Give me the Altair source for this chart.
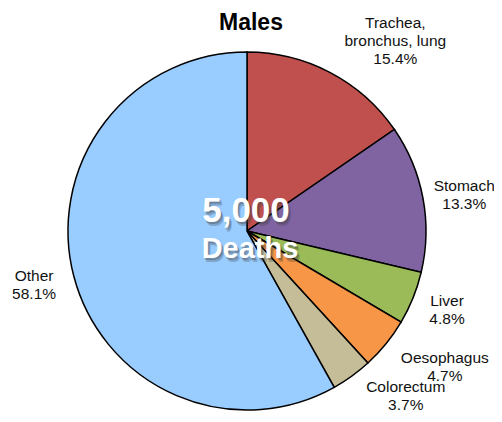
import altair as alt
import pandas as pd

# ---- data ----
causes = ["Trachea,\nbronchus, lung", "Stomach", "Liver", "Oesophagus", "Colorectum", "Other"]
shares = [15.4, 13.3, 4.8, 4.7, 3.7, 58.1]
order = [1, 2, 3, 4, 5, 6]
colors = ["#C0504D", "#8064A2", "#9BBB59", "#F79646", "#C4BD97", "#99CCFF"]
title_text = "Males"
center_number = "5,000"
center_word = "Deaths"

df = pd.DataFrame({"cause": causes, "share": shares, "order": order})
df["label"] = [f"{c}\n{s:.1f}%" for c, s in zip(causes, shares)]

FONT = "Liberation Sans"
W, H = 478, 366
CX, CY = W / 2, H / 2
LH = 18

pie = alt.Chart(df).mark_arc(outerRadius=179, stroke="black", strokeWidth=1.5).encode(
    theta=alt.Theta("share:Q", stack=True),
    order=alt.Order("order:Q"),
    color=alt.Color("cause:N", scale=alt.Scale(domain=causes, range=colors), legend=None),
)

# pixel nudges for each label (style only)
nudges = {
    causes[0]: (46, 5),
    causes[1]: (1, 5),
    causes[2]: (-4, -3),
    causes[3]: (27, -3),
    causes[4]: (30, -13),
    causes[5]: (0, -1),
}

stacked = alt.Chart(df).transform_window(
    cum="sum(share)", sort=[alt.SortField("order")], frame=[None, 0]
).transform_calculate(mid="datum.cum - datum.share / 2")

label_layers = []
for c in causes:
    dx, dy = nudges[c]
    nlines = c.count("\n") + 2
    dy = dy - (nlines - 1) / 2 * LH
    label_layers.append(
        stacked.transform_filter(alt.datum.cause == c)
        .mark_text(radius=220, font=FONT, fontSize=15.5, lineBreak="\n", lineHeight=LH,
                   align="center", baseline="middle", color="#111111", dx=dx, dy=dy)
        .encode(
            theta=alt.Theta("mid:Q", scale=alt.Scale(domain=[0, 100])),
            text="label:N",
        )
    )

def center_text(txt, size, dx, dy, color, opacity=1.0):
    return alt.Chart(df).transform_filter(alt.datum.order == 1).mark_text(
        font=FONT, fontSize=size, fontWeight="bold", align="center", baseline="middle",
        color=color, opacity=opacity, dx=dx, dy=dy,
    ).encode(x=alt.value(CX), y=alt.value(CY), text=alt.value(txt))

shadow_layers = [
    center_text(center_number, 35, -1 + 2.5, -20 + 3.5, "#333333", 0.25),
    center_text(center_word, 29, 3 + 2.5, 18 + 3.5, "#333333", 0.25),
    center_text(center_number, 35, -1 + 1.5, -20 + 2, "#444444", 0.35),
    center_text(center_word, 29, 3 + 1.5, 18 + 2, "#444444", 0.35),
]
center_layers = [
    center_text(center_number, 35, -1, -20, "white"),
    center_text(center_word, 29, 3, 18, "white"),
]

title_layer = alt.Chart(df).transform_filter(alt.datum.order == 1).mark_text(
    font=FONT, fontSize=23, fontWeight="bold", align="center", baseline="alphabetic", color="black"
).encode(x=alt.value(CX + 4), y=alt.value(30 - 48), text=alt.value(title_text))

chart = alt.layer(pie, *label_layers, *shadow_layers, *center_layers, title_layer).resolve_scale(
    theta="independent"
).properties(
    width=W, height=H,
    autosize=alt.AutoSizeParams(type="none"),
    padding={"left": 0, "top": 40, "right": 8, "bottom": 0},
).configure_view(stroke=None)

chart.save("out.html", embed_options={"renderer": "svg", "actions": False})
